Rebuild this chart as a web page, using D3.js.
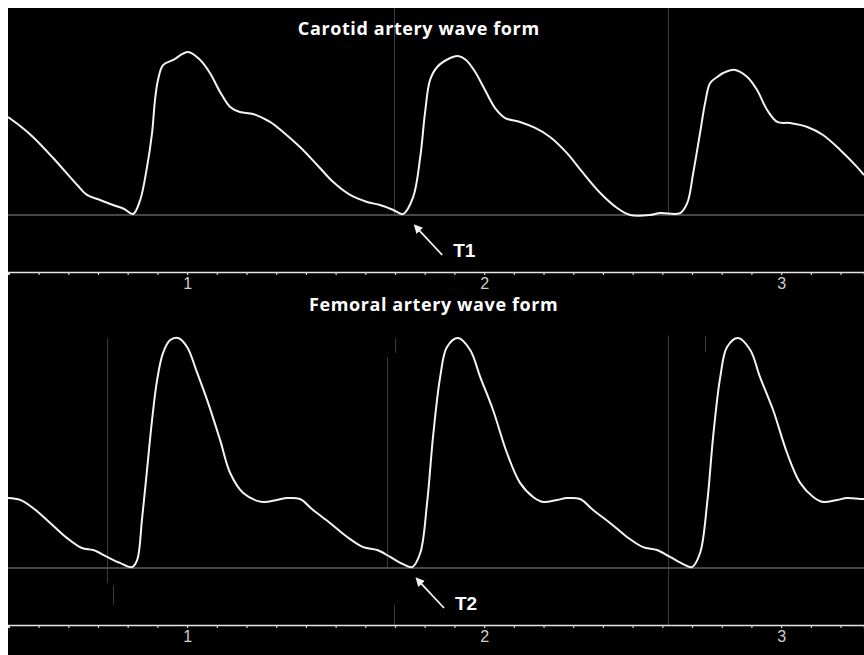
<!DOCTYPE html>
<html>
<head>
<meta charset="utf-8">
<script src="https://cdn.jsdelivr.net/npm/d3@7"></script>
<style>
  html, body { margin: 0; padding: 0; background: #ffffff; }
  svg { display: block; }
</style>
</head>
<body>
<div id="chart"></div>
<script>
// Pulse wave recordings: time in seconds, amplitude normalised to the first systolic peak (%).

const carotidTime = [
  0.397, 0.438, 0.481, 0.549, 0.630, 0.663, 0.707, 0.751, 0.788, 0.818,
  0.842, 0.865, 0.882, 0.892, 0.902, 0.919, 0.953, 1.003, 1.044, 1.077,
  1.111, 1.145, 1.178, 1.222, 1.279, 1.323, 1.380, 1.438, 1.492, 1.549,
  1.606, 1.650, 1.694, 1.727, 1.761, 1.785, 1.801, 1.818, 1.842, 1.886,
  1.912, 1.939, 1.970, 2.003, 2.037, 2.071, 2.121, 2.172, 2.222, 2.279,
  2.333, 2.391, 2.448, 2.492, 2.559, 2.593, 2.660, 2.684, 2.704, 2.727,
  2.744, 2.761, 2.785, 2.805, 2.845, 2.886, 2.919, 2.953, 2.987, 3.030,
  3.088, 3.141, 3.199, 3.256, 3.279
];
const carotidValue = [
  60.1, 54.6, 47.9, 35.0, 18.4, 12.3, 9.2, 6.1, 3.7, 0.6,
  9.2, 29.4, 50.3, 70.6, 82.8, 92.0, 95.1, 100, 95.1, 87.1,
  75.5, 66.3, 63.2, 62.0, 57.1, 50.9, 41.7, 30.7, 20.2, 12.3,
  8.0, 6.1, 3.1, 0.6, 11.0, 35.6, 62.6, 82.8, 90.8, 96.3,
  97.5, 95.1, 87.7, 76.7, 65.6, 59.5, 57.1, 53.4, 47.9, 38.0,
  25.8, 13.5, 4.3, 0.0, 0.0, 1.2, 1.2, 7.4, 25.8, 50.3,
  68.7, 81.0, 84.7, 87.1, 89.0, 84.7, 76.7, 64.4, 57.1, 56.4,
  54.0, 49.1, 39.9, 29.4, 24.5
];

const femoralTime = [
  0.397, 0.438, 0.481, 0.539, 0.596, 0.646, 0.684, 0.731, 0.774, 0.815,
  0.832, 0.848, 0.865, 0.882, 0.899, 0.919, 0.943, 0.970, 1.000, 1.034,
  1.071, 1.111, 1.145, 1.189, 1.253, 1.303, 1.337, 1.380, 1.424, 1.481,
  1.539, 1.593, 1.640, 1.684, 1.727, 1.758, 1.785, 1.808, 1.828, 1.852,
  1.875, 1.912, 1.953, 1.987, 2.030, 2.077, 2.121, 2.165, 2.199, 2.246,
  2.279, 2.323, 2.367, 2.424, 2.481, 2.535, 2.582, 2.626, 2.670, 2.700,
  2.727, 2.751, 2.771, 2.795, 2.818, 2.855, 2.896, 2.929, 2.973, 3.020,
  3.064, 3.108, 3.141, 3.189, 3.222, 3.266, 3.279
];
const femoralValue = [
  30.4, 29.6, 26.1, 19.6, 13.0, 8.7, 7.8, 4.8, 2.2, 0.4,
  3.5, 20.9, 42.6, 64.3, 81.7, 93.5, 99.1, 100, 96.1, 84.8,
  71.7, 55.7, 41.3, 32.6, 28.7, 29.6, 30.4, 30.0, 25.2, 19.6,
  13.5, 9.1, 7.8, 4.8, 1.7, 0.4, 6.5, 28.3, 57.0, 83.0,
  96.1, 100, 94.8, 83.0, 68.7, 50.0, 37.0, 30.9, 28.7, 29.6,
  30.4, 30.0, 25.2, 19.6, 13.5, 9.1, 7.8, 4.8, 1.7, 0.4,
  6.5, 28.3, 57.0, 83.0, 96.1, 100, 94.8, 83.0, 68.7, 50.0,
  37.0, 30.9, 28.7, 29.6, 30.4, 30.0, 30.0
];

// Axis ticks (seconds)
const minorTicks = d3.range(4, 33).map(i => i / 10);
const majorTicks = [1, 2, 3];
const tickLabels = ["1", "2", "3"];

const titles = ["Carotid artery wave form", "Femoral artery wave form"];
const titleTimes = [1.78, 1.83];

// Recorder cursor lines: time and amplitude span
const carotidMarkers = [
  { t: 1.697, from: 127, to: 0 },
  { t: 2.620, from: 127, to: 0 }
];
const femoralMarkers = [
  { t: 0.731, from: 100, to: -6.5 },
  { t: 0.751, from: -7.5, to: -16 },
  { t: 1.673, from: 91.7, to: 0 },
  { t: 1.700, from: 100, to: 93.5 },
  { t: 1.697, from: -16, to: -25 },
  { t: 2.620, from: 101, to: -25 },
  { t: 2.744, from: 101, to: 94 }
];

// Foot-of-wave annotations (transit time reference points)
const footLabels = ["T1", "T2"];
const footTimes = [1.768, 1.774];

// ---------------------------------------------------------------
const W = 864, H = 655;
const svg = d3.select("#chart").append("svg")
  .attr("width", W).attr("height", H);

svg.append("rect").attr("x", 8).attr("y", 8)
  .attr("width", W - 8).attr("height", H - 8).attr("fill", "#000");

svg.append("clipPath").attr("id", "plotClip")
  .append("rect").attr("x", 8).attr("y", 8).attr("width", W - 8).attr("height", H - 8);

const x = d3.scaleLinear()
  .domain([carotidTime[0], carotidTime[carotidTime.length - 1]])
  .range([8, W]);

const panels = [
  { title: titles[0], titleT: titleTimes[0], time: carotidTime, value: carotidValue, markers: carotidMarkers,
    y: d3.scaleLinear().domain([0, 100]).range([215, 52]),
    titleY: 35, axisY: 272, label: footLabels[0], labelT: footTimes[0] },
  { title: titles[1], titleT: titleTimes[1], time: femoralTime, value: femoralValue, markers: femoralMarkers,
    y: d3.scaleLinear().domain([0, 100]).range([568, 338]),
    titleY: 311, axisY: 625, label: footLabels[1], labelT: footTimes[1] }
];

const defs = svg.append("defs");
defs.append("marker").attr("id", "arrowHead")
  .attr("viewBox", "0 0 10 10").attr("refX", 1).attr("refY", 5)
  .attr("markerWidth", 5).attr("markerHeight", 5).attr("orient", "auto-start-reverse")
  .attr("markerUnits", "strokeWidth")
  .append("path").attr("d", "M0,0 L10,5 L0,10 Z").attr("fill", "#f2f2f2");

panels.forEach(p => {
  const g = svg.append("g");
  const y0 = p.y(0);

  // cursor lines
  g.selectAll("line.marker").data(p.markers).join("line")
    .attr("class", "marker")
    .attr("x1", d => Math.round(x(d.t)) + 0.5).attr("x2", d => Math.round(x(d.t)) + 0.5)
    .attr("y1", d => p.y(d.from)).attr("y2", d => p.y(d.to))
    .attr("stroke", "#3a3a3a").attr("stroke-width", 1);

  // baseline through the wave foot
  g.append("line")
    .attr("x1", 8).attr("x2", W).attr("y1", y0).attr("y2", y0)
    .attr("stroke", "#5e5e5e").attr("stroke-width", 1.5);

  // waveform
  const pts = p.time.map((t, i) => [t, p.value[i]]);
  g.append("path").datum(pts)
    .attr("clip-path", "url(#plotClip)")
    .attr("fill", "none").attr("stroke", "#f4f4f4").attr("stroke-width", 2)
    .attr("stroke-linejoin", "round")
    .attr("d", d3.line().x(d => x(d[0])).y(d => p.y(d[1])).curve(d3.curveCatmullRom.alpha(0.5)));

  // title
  g.append("text")
    .attr("x", x(p.titleT)).attr("y", p.titleY)
    .attr("text-anchor", "middle")
    .attr("font-family", "'Open Sans', 'Noto Sans', sans-serif")
    .attr("font-weight", 700).attr("font-size", 18)
    .attr("letter-spacing", 0.6)
    .attr("fill", "#ffffff")
    .text(p.title);

  // time axis
  const axis = d3.axisBottom(x)
    .tickValues(minorTicks)
    .tickSize(3).tickPadding(3)
    .tickFormat(d => {
      const k = majorTicks.findIndex(m => Math.abs(m - d) < 1e-6);
      return k >= 0 ? tickLabels[k] : "";
    });
  const ag = g.append("g").attr("transform", `translate(0,${p.axisY})`).call(axis);
  ag.select(".domain").attr("stroke", "#e6e6e6").attr("stroke-width", 1.5);
  ag.selectAll(".tick line").attr("stroke", "#d8d8d8").attr("stroke-width", 1.2);
  ag.selectAll(".tick text")
    .attr("fill", "#cfcfcf")
    .attr("font-family", "'Liberation Sans Narrow', 'Liberation Sans', Arial, sans-serif")
    .attr("font-size", 16);

  // foot-of-wave arrow and label
  const tipX = x(p.labelT), tipY = y0 + 11;
  g.append("line")
    .attr("x1", tipX + 27).attr("y1", tipY + 29)
    .attr("x2", tipX + 4).attr("y2", tipY + 4.3)
    .attr("stroke", "#f2f2f2").attr("stroke-width", 1.8)
    .attr("marker-end", "url(#arrowHead)");
  g.append("text")
    .attr("x", tipX + 38).attr("y", tipY + 31)
    .attr("font-family", "'Liberation Sans', Arial, sans-serif")
    .attr("font-weight", 700).attr("font-size", 19)
    .attr("fill", "#ffffff")
    .text(p.label);
});
</script>
</body>
</html>
